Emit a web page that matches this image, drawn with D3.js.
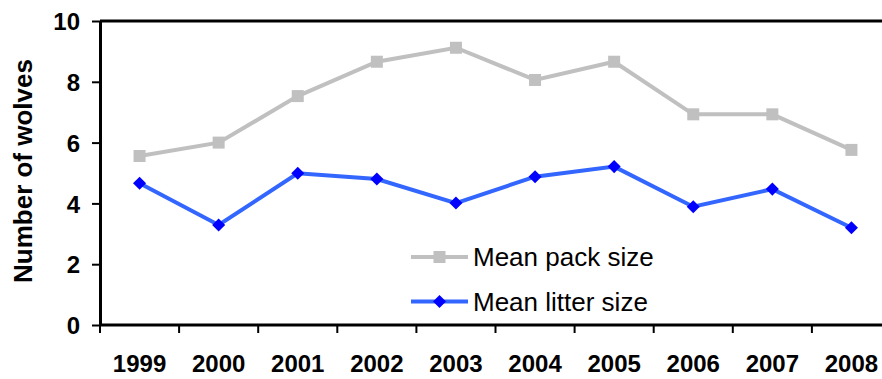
<!DOCTYPE html>
<html>
<head>
<meta charset="utf-8">
<script src="https://cdn.jsdelivr.net/npm/d3@7/dist/d3.min.js"></script>
<style>
  html, body { margin: 0; padding: 0; background: #fff; }
  svg { display: block; }
  text { font-family: "Liberation Sans", Arial, sans-serif; }
</style>
</head>
<body>
<svg id="chart" width="882" height="379"></svg>
<script>
// Wolf pack and litter sizes by year
const years = ["1999", "2000", "2001", "2002", "2003", "2004", "2005", "2006", "2007", "2008"];
const packSize = [5.56, 6.0, 7.53, 8.66, 9.12, 8.06, 8.66, 6.93, 6.93, 5.76];
const litterSize = [4.66, 3.29, 4.99, 4.80, 4.01, 4.88, 5.21, 3.89, 4.47, 3.20];
const yTicks = [0, 2, 4, 6, 8, 10];
const seriesNames = ["Mean pack size", "Mean litter size"];

const svg = d3.select("#chart");
const plotLeft = 100, plotRight = 891, plotTop = 21, plotBottom = 325;

const x = d3.scaleBand().domain(years).range([plotLeft, plotRight]).padding(0);
const y = d3.scaleLinear().domain([0, 10]).range([plotBottom, plotTop]);
const cx = d => x(d) + x.bandwidth() / 2;

// top border of plot area
svg.append("line")
  .attr("x1", plotLeft).attr("x2", plotRight)
  .attr("y1", plotTop).attr("y2", plotTop)
  .attr("stroke", "#000").attr("stroke-width", 3);

// y axis
const yAxis = svg.append("g")
  .attr("transform", `translate(${plotLeft},0)`)
  .call(d3.axisLeft(y).tickValues(yTicks).tickSize(8).tickSizeOuter(0).tickPadding(12));
yAxis.select(".domain").attr("stroke", "#000").attr("stroke-width", 3);
yAxis.selectAll(".tick line").attr("stroke", "#000").attr("stroke-width", 2);
yAxis.selectAll(".tick text")
  .attr("font-size", 24).attr("font-weight", "bold").attr("fill", "#000")
  .attr("dy", "0.36em")
  .attr("font-family", "Liberation Sans, Arial, sans-serif");

// x axis: ticks between categories
const xAxis = svg.append("g").attr("transform", `translate(0,${plotBottom})`);
xAxis.append("line")
  .attr("x1", plotLeft).attr("x2", plotRight)
  .attr("y1", 0).attr("y2", 0)
  .attr("stroke", "#000").attr("stroke-width", 3);
const boundaries = years.map(d => x(d)).concat([x(years[years.length - 1]) + x.bandwidth()]);
xAxis.selectAll("line.tk").data(boundaries).join("line")
  .attr("class", "tk")
  .attr("x1", d => d).attr("x2", d => d)
  .attr("y1", 0).attr("y2", 8)
  .attr("stroke", "#000").attr("stroke-width", 2);
xAxis.selectAll("text").data(years).join("text")
  .attr("x", d => cx(d)).attr("y", 47)
  .attr("text-anchor", "middle")
  .attr("font-size", 24).attr("font-weight", "bold").attr("fill", "#000")
  .text(d => d);

// y axis title
svg.append("text")
  .attr("transform", `translate(32,171) rotate(-90)`)
  .attr("text-anchor", "middle")
  .attr("font-size", 26).attr("font-weight", "bold").attr("fill", "#000")
  .text("Number of wolves");

const line = d3.line().x((d, i) => cx(years[i])).y(d => y(d));

// pack size series
svg.append("path").datum(packSize)
  .attr("d", line).attr("fill", "none")
  .attr("stroke", "#C0C0C0").attr("stroke-width", 4);
svg.selectAll("rect.pack").data(packSize).join("rect")
  .attr("class", "pack")
  .attr("x", (d, i) => cx(years[i]) - 6)
  .attr("y", d => y(d) - 6)
  .attr("width", 12).attr("height", 12)
  .attr("fill", "#C0C0C0");

// litter size series
const diamond = d3.symbol().type(d3.symbolSquare).size(85);
svg.append("path").datum(litterSize)
  .attr("d", line).attr("fill", "none")
  .attr("stroke", "#3366FF").attr("stroke-width", 4);
svg.selectAll("path.litter").data(litterSize).join("path")
  .attr("class", "litter")
  .attr("d", diamond)
  .attr("transform", (d, i) => `translate(${cx(years[i])},${y(d)}) rotate(45)`)
  .attr("fill", "#0000FF");

// legend
const legend = svg.append("g");
const legendRows = [
  { name: seriesNames[0], color: "#C0C0C0", marker: "square", yy: 257 },
  { name: seriesNames[1], color: "#3366FF", marker: "diamond", yy: 301.5 }
];
legendRows.forEach(r => {
  legend.append("line")
    .attr("x1", 411).attr("x2", 468)
    .attr("y1", r.yy).attr("y2", r.yy)
    .attr("stroke", r.color).attr("stroke-width", 4);
  if (r.marker === "square") {
    legend.append("rect")
      .attr("x", 439.5 - 6).attr("y", r.yy - 6)
      .attr("width", 12).attr("height", 12)
      .attr("fill", "#C0C0C0");
  } else {
    legend.append("path")
      .attr("d", diamond)
      .attr("transform", `translate(439.5,${r.yy}) rotate(45)`)
      .attr("fill", "#0000FF");
  }
  legend.append("text")
    .attr("x", 473).attr("y", r.yy + 9)
    .attr("font-size", 26).attr("fill", "#000")
    .text(r.name);
});
</script>
</body>
</html>
